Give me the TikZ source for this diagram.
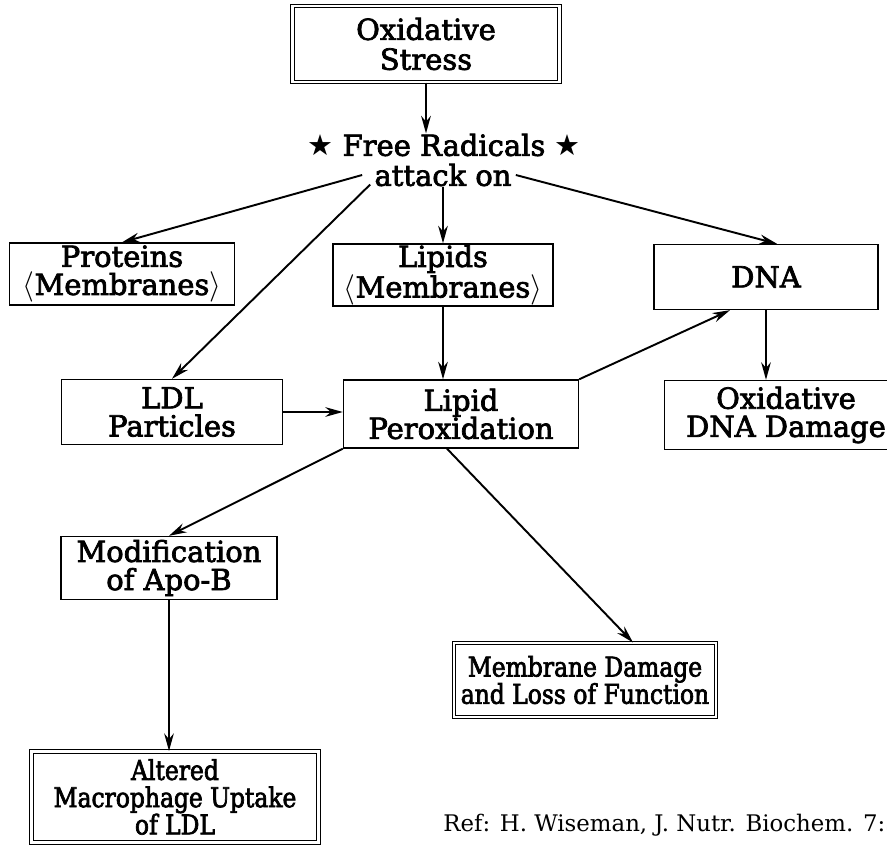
\documentclass[tikz,border=0pt]{standalone}
\usepackage{fontspec}
\setmainfont{DejaVu Serif}[FakeBold=2.5]
\newfontfamily\narrowfont{DejaVu Serif}[FakeStretch=0.86, FakeBold=2.5]
\newfontfamily\reffont{DejaVu Serif}
\newfontfamily\starfont{DejaVu Sans}
\usetikzlibrary{arrows.meta, calc}

\begin{document}
\begin{tikzpicture}[
  x=0.02cm, y=-0.02cm,
  block/.style={rectangle, draw, line width=0.8pt, inner sep=0pt, align=center,
                font=\fontsize{16.5}{16}\selectfont},
  dblock/.style={block, double, double distance=1.5pt, line width=0.6pt,
                 font=\narrowfont\fontsize{15.5}{15.5}\selectfont},
  link/.style={-{Stealth[length=10pt, width=5.5pt]}, line width=1.1pt},
  lbl/.style={inner sep=0pt, font=\fontsize{16.5}{15}\selectfont}
]
  \useasboundingbox (0,0) rectangle (887,845);

  % source and the free radical attack
  \node[dblock, minimum width=5.34cm, minimum height=1.52cm,
        font=\fontsize{16.5}{17}\selectfont] (stress) at (426,44) {Oxidative\\Stress};
  \node[lbl] (free) at (444,145) {{\starfont ★} Free Radicals {\starfont ★}};
  \node[lbl] (att) at (443,175) {attack on};

  % targets
  \node[block, minimum width=4.5cm, minimum height=1.24cm] (prot) at (122,274) {Proteins\\$\langle$Membranes$\rangle$};
  \node[block, minimum width=4.4cm, minimum height=1.24cm] (lip) at (443,275) {Lipids\\$\langle$Membranes$\rangle$};
  \node[block, minimum width=4.48cm, minimum height=1.3cm] (dna) at (766,277) {DNA};
  \node[block, minimum width=4.42cm, minimum height=1.3cm] (ldl) at (172,412) {LDL\\Particles};
  \node[block, minimum width=4.7cm, minimum height=1.36cm] (lp) at (461,414) {Lipid\\Peroxidation};
  \node[block, minimum width=4.86cm, minimum height=1.38cm] (odd) at (786,415) {Oxidative\\DNA Damage};
  \node[block, minimum width=4.32cm, minimum height=1.26cm] (mod) at (169,568) {Modification\\of Apo-B};

  % outcomes
  \node[dblock, minimum width=5.24cm, minimum height=1.48cm] (memb) at (585,680) {Membrane Damage\\and Loss of Function};
  \node[dblock, minimum width=5.74cm, minimum height=1.82cm] (alt) at (175,797) {Altered\\Macrophage Uptake\\of LDL};

  \node[anchor=west, inner sep=0pt, font=\reffont\fontsize{13}{14}\selectfont] (ref) at (443,825)
    {Ref: H. Wiseman, J. Nutr. Biochem. 7:3};

  \draw[link] (stress.south) -- (stress.south |- free.north);
  \draw[link] ($(att.west)+(-12,0)$) -- (prot.north);
  \draw[link] ($(att.south west)+(-4,-2)$) -- (ldl.north);
  \draw[link] (att.south) -- (att.south |- lip.north);
  \draw[link] ($(att.east)+(4,0)$) -- ($(dna.north)+(11,0)$);
  \draw[link] (lip.south) -- (lip.south |- lp.north);
  \draw[link] (ldl.east) -- (ldl.east -| lp.west);
  \draw[link] (lp.north east) -- ($(dna.south)+(-36,0)$);
  \draw[link] (dna.south) -- (dna.south |- odd.north);
  \draw[link] (lp.south west) -- (mod.north);
  \draw[link] ($(lp.south)+(-14,0)$) -- ($(memb.north)+(48,0)$);
  \draw[link] (mod.south) -- (mod.south |- alt.north);
\end{tikzpicture}
\end{document}
